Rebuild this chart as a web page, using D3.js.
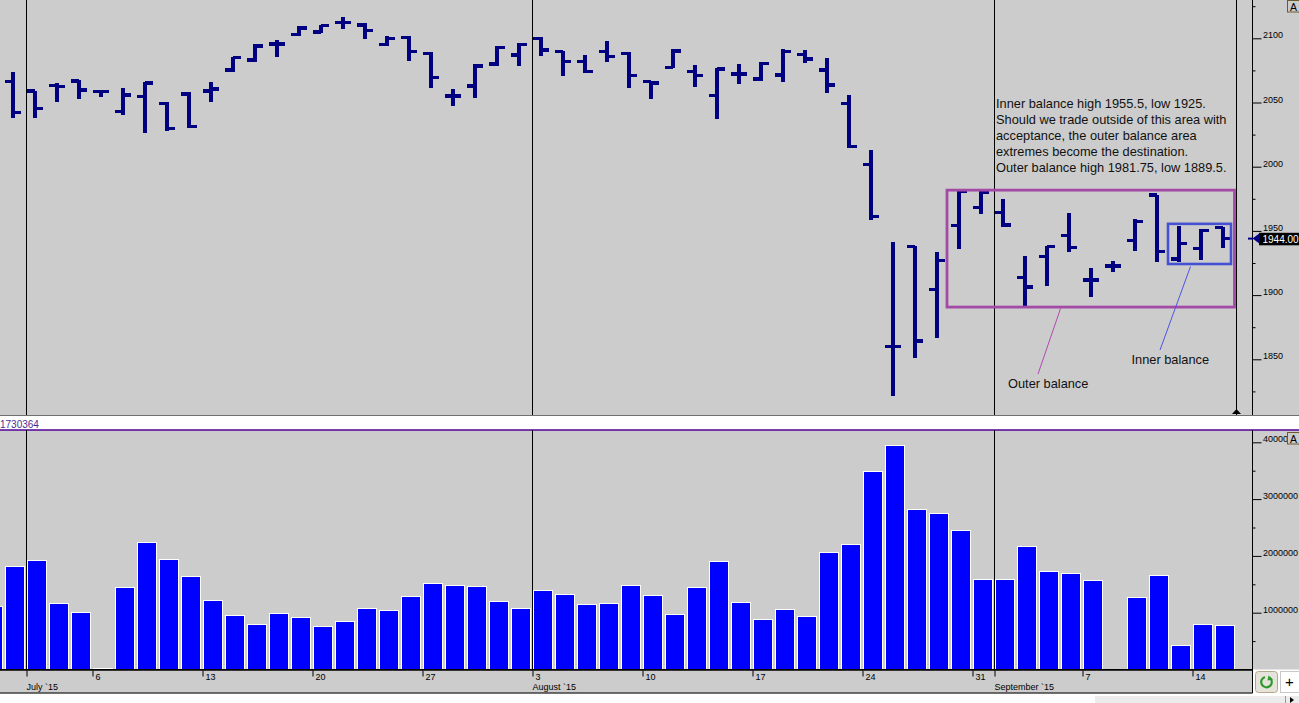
<!DOCTYPE html>
<html><head><meta charset="utf-8">
<script src="https://cdn.jsdelivr.net/npm/d3@7"></script>
<style>
body{margin:0;background:#fff;overflow:hidden;}
svg{display:block;font-family:"Liberation Sans",Arial,sans-serif;}
</style>
</head><body>
<svg id="chart" width="1299" height="703"></svg>
<script>
// ---------- DATA ----------
const dates = ["06-29","06-30","07-01","07-02","07-03","07-06","07-07","07-08","07-09","07-10",
  "07-13","07-14","07-15","07-16","07-17","07-20","07-21","07-22","07-23","07-24",
  "07-27","07-28","07-29","07-30","07-31","08-03","08-04","08-05","08-06","08-07",
  "08-10","08-11","08-12","08-13","08-14","08-17","08-18","08-19","08-20","08-21",
  "08-24","08-25","08-26","08-27","08-28","08-31","09-01","09-02","09-03","09-04",
  "09-07","09-08","09-09","09-10","09-11","09-14","09-15"];

const opens  = [null,2066.2,2059.0,2063.1,2066.7,2058.4,2042.8,2054.5,2049.4,2056.6,2059.0,2075.3,2083.1,2095.6,2103.0,2105.0,2112.5,2110.4,2095.3,2100.8,2088.3,2055.1,2062.9,2079.8,2087.0,2100.0,2089.6,2081.8,2089.6,2088.3,2066.2,2077.1,2074.0,2055.3,2072.2,2068.3,2071.4,2087.5,2075.5,2049.1,2001.6,1859.8,1937.7,1904.5,1954.1,1968.4,1964.5,1913.6,1929.9,1946.3,1911.8,1922.7,1942.4,1978.0,1928.1,1936.4,1952.8];
const highs  = [null,2073.5,2059.0,2065.0,2067.5,2059.7,2061.1,2066.2,2050.6,2058.4,2065.7,2085.7,2095.6,2098.7,2109.5,2110.4,2116.8,2112.1,2101.8,2101.8,2089.1,2060.5,2079.8,2094.2,2096.1,2100.8,2090.3,2087.0,2097.9,2089.1,2067.0,2091.7,2079.2,2076.6,2080.0,2081.3,2091.7,2090.9,2084.4,2055.8,2013.0,1941.6,1938.5,1933.3,1981.9,1981.3,1974.8,1930.5,1938.5,1963.7,1920.9,1926.6,1959.0,1978.0,1954.1,1951.2,1953.3];
const lows   = [null,2038.2,2038.2,2050.6,2052.7,2054.5,2040.3,2026.0,2027.8,2029.9,2050.6,2074.0,2081.8,2085.7,2101.5,2103.9,2107.2,2099.2,2094.2,2082.6,2061.1,2047.5,2053.3,2078.4,2078.7,2086.4,2070.9,2072.7,2081.8,2061.1,2052.7,2076.6,2061.8,2037.1,2064.4,2067.0,2066.2,2081.0,2057.6,2014.3,1958.5,1821.4,1850.8,1866.4,1935.7,1962.9,1953.3,1891.7,1907.3,1933.3,1898.8,1918.2,1934.6,1926.0,1925.5,1927.3,1936.9];
const closes = [null,2042.1,2045.2,2062.3,2059.7,2058.4,2055.8,2065.0,2029.9,2031.2,2060.5,2084.9,2094.0,2095.6,2108.0,2109.8,2112.5,2105.9,2100.0,2089.6,2069.3,2055.1,2078.4,2092.7,2095.3,2090.9,2081.8,2074.0,2085.7,2070.9,2065.0,2090.3,2070.9,2075.9,2072.2,2080.2,2089.6,2083.9,2063.6,2015.6,1961.1,1859.8,1864.3,1926.8,1980.5,1980.1,1954.6,1906.5,1937.7,1936.9,1911.8,1922.7,1957.2,1933.8,1940.3,1950.2,1944.0];
const volumes = [1110000,1820000,1920000,1165000,1010000,20000,1450000,2240000,1940000,1640000,1220000,954000,796000,990000,920000,760000,850000,1080000,1040000,1290000,1518000,1480000,1465000,1200000,1077000,1394000,1324000,1148000,1165000,1480000,1306000,970000,1447000,1905000,1183000,884000,1060000,937000,2063000,2204000,3490000,3935000,2820000,2750000,2450000,1588000,1588000,2169000,1729000,1694000,1570000,0,1270000,1658000,426000,796000,778000];

const priceTicks = [1850,1900,1950,2000,2050,2100];
const priceMinorTicks = [1825,1875,1925,1975,2025,2075,2125];
const volumeTicks = [1000000,2000000,3000000,4000000];
const volumeMinorTicks = [500000,1500000,2500000,3500000];
const dayTicks = [["07-06","6"],["07-13","13"],["07-20","20"],["07-27","27"],["08-03","3"],["08-10","10"],["08-17","17"],["08-24","24"],["08-31","31"],["09-07","7"],["09-14","14"]];
const monthTicks = [["07-01","July `15"],["08-03","August `15"],["09-01","September `15"]];
const lastClose = 1944.00;
const volumeHeader = "1730364";
const outerBalance = {high:1981.75, low:1889.5, from:"08-28", to:"09-15"};
const innerBalance = {high:1955.5, low:1925, from:"09-11", to:"09-15"};
const noteLines = ["Inner balance high 1955.5, low 1925.",
  "Should we trade outside of this area with",
  "acceptance, the outer balance area",
  "extremes become the destination.",
  "Outer balance high 1981.75, low 1889.5."];

// ---------- LAYOUT ----------
const W = 1299, H = 703;
const axisX = 1252.5;
const pricePane = {top:0, bottom:415};
const volPane = {top:430, bottom:669.5};
const BG = "#cccccc", NAVY = "#000080";

const svg = d3.select("#chart");
const x = d3.scaleBand().domain(dates).range([-17.5, 1236.5]).paddingInner(0).paddingOuter(0);
const yP = d3.scaleLinear().domain([1850, 2100]).range([359.3, 38.3]);
const yV = d3.scaleLinear().domain([0, 4000000]).range([669.5, 442.3]);

const defs = svg.append("defs");
defs.append("clipPath").attr("id","clipP").append("rect").attr("x",0).attr("y",0).attr("width",axisX).attr("height",pricePane.bottom);
defs.append("clipPath").attr("id","clipV").append("rect").attr("x",0).attr("y",volPane.top).attr("width",axisX).attr("height",volPane.bottom-volPane.top);
const cva = defs.append("clipPath").attr("id","clipVA");
cva.append("rect").attr("x",0).attr("y",volPane.top).attr("width",1287).attr("height",15);
cva.append("rect").attr("x",0).attr("y",volPane.top+15).attr("width",W).attr("height",volPane.bottom-volPane.top-15);

// backgrounds
svg.append("rect").attr("width",W).attr("height",H).attr("fill","#fff");
svg.append("rect").attr("x",0).attr("y",0).attr("width",W).attr("height",pricePane.bottom).attr("fill",BG);
svg.append("rect").attr("x",0).attr("y",volPane.top).attr("width",W).attr("height",volPane.bottom-volPane.top).attr("fill",BG);
svg.append("rect").attr("x",0).attr("y",416).attr("width",W).attr("height",13.5).attr("fill","#fff");
svg.append("line").attr("x1",0).attr("x2",W).attr("y1",415.5).attr("y2",415.5).attr("stroke","#707070");
svg.append("line").attr("x1",0).attr("x2",W).attr("y1",430).attr("y2",430).attr("stroke","#50009a").attr("stroke-width",1.4);
svg.append("text").attr("x",0).attr("y",427.5).attr("font-size",10).attr("fill","#4b2d96").text(volumeHeader);

// month separator lines
const gP = svg.append("g").attr("clip-path","url(#clipP)");
const gV = svg.append("g").attr("clip-path","url(#clipV)");
monthTicks.forEach(([d]) => {
  const xx = Math.round(x(d)) - 0.5;
  gP.append("line").attr("x1",xx).attr("x2",xx).attr("y1",0).attr("y2",pricePane.bottom).attr("stroke","#000");
  gV.append("line").attr("x1",xx).attr("x2",xx).attr("y1",volPane.top).attr("y2",volPane.bottom).attr("stroke","#000");
});

// volume bars
gV.selectAll("rect.vol").data(dates.map((d,i)=>({d, v:volumes[i]})).filter(o=>o.v>0))
  .join("rect").attr("class","vol")
  .attr("x", o => x(o.d)+0.5).attr("width", 19)
  .attr("y", o => yV(o.v)).attr("height", o => yV(0)-yV(o.v))
  .attr("fill","#0000ff").attr("stroke","#fff").attr("stroke-width",1)
  .attr("shape-rendering","crispEdges");

// price bars
const ohlc = dates.map((d,i)=>({d, o:opens[i], h:highs[i], l:lows[i], c:closes[i]})).filter(b=>b.o!==null);
const gb = gP.append("g").attr("fill",NAVY).attr("shape-rendering","crispEdges");
ohlc.forEach(b => {
  const x0 = x(b.d);
  gb.append("rect").attr("x",x0+6).attr("width",4).attr("y",yP(b.h)).attr("height",Math.max(2,yP(b.l)-yP(b.h)));
  gb.append("rect").attr("x",x0).attr("width",8).attr("y",yP(b.o)-1.75).attr("height",3.5);
  gb.append("rect").attr("x",x0+8).attr("width",8).attr("y",yP(b.c)-1.75).attr("height",3.5);
});

// cursor line with triangle
const curX = x.range()[1];
svg.append("line").attr("x1",curX).attr("x2",curX).attr("y1",0).attr("y2",pricePane.bottom).attr("stroke","#000");
svg.append("path").attr("d",`M${curX-4.5},${pricePane.bottom-1}L${curX},${pricePane.bottom-6}L${curX+4.5},${pricePane.bottom-1}Z`).attr("fill","#000");

// balance boxes
const ob = outerBalance, ib = innerBalance;
const obX0 = x(ob.from)-3.5, obX1 = x(ob.to)+20;
svg.append("rect").attr("x",obX0).attr("y",yP(ob.high)).attr("width",obX1-obX0).attr("height",yP(ob.low)-yP(ob.high)-1.5)
  .attr("fill","none").attr("stroke","#a24aa6").attr("stroke-width",2.8);
const ibX0 = x(ib.from)-2.5, ibX1 = x(ib.to)+16.5;
svg.append("rect").attr("x",ibX0).attr("y",yP(ib.high)).attr("width",ibX1-ibX0).attr("height",yP(ib.low)-yP(ib.high)+1)
  .attr("fill","none").attr("stroke","#4650d2").attr("stroke-width",2.6);

// notes and labels
const noteFont = 12.8;
const noteG = svg.append("g").attr("font-size",noteFont).attr("fill","#111");
noteLines.forEach((t,i)=> noteG.append("text").attr("x",996).attr("y",107.5+i*16).text(t));
const outerLbl = {x:1008, y:388}, innerLbl = {x:1131.5, y:364};
svg.append("line").attr("x1",outerLbl.x+30).attr("y1",outerLbl.y-14).attr("x2",x("09-04")).attr("y2",yP(ob.low))
  .attr("stroke","#b04ab4").attr("stroke-width",1);
svg.append("line").attr("x1",innerLbl.x+28.5).attr("y1",innerLbl.y-14).attr("x2",x("09-14")-2).attr("y2",yP(ib.low)+3.5)
  .attr("stroke","#4a55e6").attr("stroke-width",1);
svg.append("text").attr("x",outerLbl.x).attr("y",outerLbl.y).attr("font-size",noteFont).attr("fill","#111").text("Outer balance");
svg.append("text").attr("x",innerLbl.x).attr("y",innerLbl.y).attr("font-size",noteFont).attr("fill","#111").text("Inner balance");

// right axes
function styleAxis(g){ g.select(".domain").remove(); g.selectAll("line").attr("stroke","#000"); g.selectAll("text").attr("dy","-0.05em").attr("fill","#000").attr("font-size",9).attr("font-family","Liberation Sans, Arial, sans-serif"); }
svg.append("line").attr("x1",axisX).attr("x2",axisX).attr("y1",0).attr("y2",pricePane.bottom).attr("stroke","#000");
svg.append("line").attr("x1",axisX).attr("x2",axisX).attr("y1",volPane.top).attr("y2",volPane.bottom).attr("stroke","#000");
svg.append("g").attr("transform",`translate(${axisX},0)`).call(d3.axisRight(yP).tickValues(priceTicks).tickSize(9).tickPadding(1.5).tickFormat(d3.format("d"))).call(styleAxis);
svg.append("g").attr("transform",`translate(${axisX},0)`).call(d3.axisRight(yP).tickValues(priceMinorTicks).tickSize(3).tickFormat("")).call(styleAxis);
svg.append("g").attr("clip-path","url(#clipVA)").append("g").attr("transform",`translate(${axisX},0)`).call(d3.axisRight(yV).tickValues(volumeTicks).tickSize(9).tickPadding(1.5).tickFormat(d3.format("d"))).call(styleAxis);
svg.append("g").attr("transform",`translate(${axisX},0)`).call(d3.axisRight(yV).tickValues(volumeMinorTicks).tickSize(3).tickFormat("")).call(styleAxis);

// "A" boxes
function aBox(y0){
  svg.append("rect").attr("x",1287.5).attr("y",y0).attr("width",12).attr("height",11.5).attr("fill",BG).attr("stroke","#6b5a2a").attr("stroke-width",1);
  svg.append("text").attr("x",1290).attr("y",y0+10).attr("font-size",10.5).attr("fill","#000").text("A");
}
aBox(0.5); aBox(432.5);

// last close marker
const yc = yP(lastClose);
svg.append("rect").attr("x",1259).attr("y",yc-5.8).attr("width",42).attr("height",12.5).attr("fill","#000");
svg.append("text").attr("x",1262.5).attr("y",yc+4.3).attr("font-size",10).attr("fill","#fff").text(d3.format(".2f")(lastClose));
svg.append("path").attr("d",`M${axisX},${yc}L${1260},${yc-5.5}L${1260},${yc+5.5}Z`).attr("fill",NAVY);
svg.append("rect").attr("x",1248).attr("y",yc-1).attr("width",5).attr("height",2).attr("fill",NAVY);

// x axis strip
svg.append("rect").attr("x",0).attr("y",670).attr("width",axisX).attr("height",23).attr("fill",BG);
svg.append("line").attr("x1",0).attr("x2",axisX).attr("y1",669.8).attr("y2",669.8).attr("stroke","#000").attr("stroke-width",1.8);
svg.append("line").attr("x1",0).attr("x2",axisX).attr("y1",693).attr("y2",693).attr("stroke","#404040").attr("stroke-width",1.5);
svg.append("line").attr("x1",axisX).attr("x2",axisX).attr("y1",669).attr("y2",693).attr("stroke","#000");
const gx = svg.append("g").attr("transform","translate(0,670.5)");
const tickDates = dayTicks.map(t=>t[0]).concat(monthTicks.map(t=>t[0]));
const dayLabel = new Map(dayTicks);
gx.call(d3.axisBottom(d3.scaleOrdinal().domain(dates).range(dates.map(d=>Math.round(x(d))-0.5)))
  .tickValues(Array.from(new Set(tickDates))).tickSize(6).tickFormat(d => dayLabel.get(d) || ""));
gx.select(".domain").remove();
gx.selectAll("line").attr("stroke","#000");
gx.selectAll("text").attr("text-anchor","start").attr("dx","2.5").attr("y",0).attr("dy","9").attr("font-size",9).attr("fill","#000").attr("font-family","Liberation Sans, Arial, sans-serif");
monthTicks.forEach(([d,label]) => {
  svg.append("text").attr("x",Math.round(x(d))-0.5).attr("y",690).attr("font-size",9).attr("fill","#000").text(label);
});

// bottom-right controls
svg.append("rect").attr("x",1255.5).attr("y",671.5).attr("width",22).attr("height",21).attr("rx",3).attr("fill","#e6e4da").attr("stroke","#b5a88a");
const arc = d3.arc().innerRadius(4.2).outerRadius(6.4).startAngle(0.6).endAngle(2*Math.PI-0.3);
svg.append("path").attr("transform","translate(1266.5,682)").attr("d",arc()).attr("fill","#2e9a2e");
svg.append("path").attr("d","M1268.5,675.5L1273,679.5L1267.5,680.5Z").attr("fill","#2e9a2e");
svg.append("rect").attr("x",1280.5).attr("y",671.5).attr("width",19).attr("height",21).attr("fill","#fff").attr("stroke","#c8c8c8");
svg.append("text").attr("x",1285).attr("y",687).attr("font-size",15).attr("fill","#000").text("+");
svg.append("rect").attr("x",1095).attr("y",696).attr("width",204).attr("height",7).attr("fill","#ececec");
svg.append("line").attr("x1",1285.5).attr("x2",1285.5).attr("y1",696).attr("y2",703).attr("stroke","#999");
svg.append("path").attr("d","M1290,697L1294,700L1290,703Z").attr("fill","#000");
</script>
</body></html>
